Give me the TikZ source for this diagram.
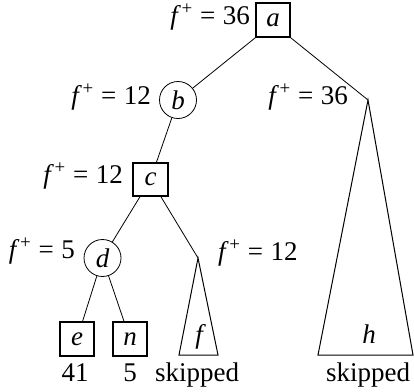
\documentclass[tikz,border=0pt]{standalone}
\usepackage{fontspec}
\setmainfont{Liberation Serif}
\begin{document}
\begin{tikzpicture}[x=1pt,y=-1pt,
  every node/.style={font=\fontsize{27}{32}\selectfont},
  maxbox/.style={draw,line width=1.8pt,minimum width=34pt,minimum height=34pt,inner sep=0pt,font=\fontsize{27}{32}\selectfont\itshape},
  minnode/.style={draw,circle,line width=0.8pt,minimum size=37pt,inner sep=0pt,font=\fontsize{27}{32}\selectfont\itshape},
  lbl/.style={inner sep=0pt},
  edge/.style={line width=0.8pt},
  tri/.style={line width=1pt,line join=miter}]
\useasboundingbox (0,0) rectangle (414,391);
\newcommand{\fplus}[1]{\textit{f}\kern0.5pt\textsuperscript{+}\hspace{0.275em}=\hspace{0.275em}#1}
% nodes
\node[maxbox] (a) at (273,20) {a};
\node[minnode] (b) at (178,100) {b};
\node[maxbox,minimum width=35pt,minimum height=33pt] (c) at (150.5,179.5) {c};
\node[minnode] (d) at (102.5,258) {d};
\node[maxbox] (e) at (77,339) {e};
\node[maxbox] (n) at (130,339) {n};
% triangles
\coordinate (fapex) at (198,258);
\coordinate (fbl) at (179,355);
\coordinate (fbr) at (218,355);
\coordinate (hapex) at (368,100);
\coordinate (hbl) at (318,355);
\coordinate (hbr) at (413,355);
\node[lbl,anchor=base,font=\fontsize{27}{32}\selectfont\itshape] (fl) at (199,343) {f};
\node[lbl,anchor=base,font=\fontsize{27}{32}\selectfont\itshape] (hl) at (369,343) {h};
% labels
\node[lbl,anchor=base east] (la) at (250,24) {\fplus{36}};
\node[lbl,anchor=base east] (lb) at (151,104) {\fplus{12}};
\node[lbl,anchor=base east] (lc) at (123,183) {\fplus{12}};
\node[lbl,anchor=base east] (ld) at (75,258) {\fplus{5}};
\node[lbl,anchor=base west] (lf) at (218,260) {\fplus{12}};
\node[lbl,anchor=base east] (lh) at (348,104) {\fplus{36}};
\node[lbl,anchor=base] (ve) at (75,381) {41};
\node[lbl,anchor=base] (vn) at (130,381) {5};
\node[lbl,anchor=base] (vf) at (197,381) {skipped};
\node[lbl,anchor=base] (vh) at (368,381) {skipped};
% edges
\draw[edge] (a.south west) -- (b);
\draw[edge] (a.south east) -- (hapex);
\draw[edge] (b) -- (c);
\draw[edge] (c) -- (d);
\draw[edge] (c) -- (fapex);
\draw[edge] (d) -- (e);
\draw[edge] (d) -- (n);
\draw[tri] (fapex) -- (fbl) -- (fbr) -- cycle;
\draw[tri] (hapex) -- (hbl) -- (hbr) -- cycle;
\end{tikzpicture}
\end{document}
